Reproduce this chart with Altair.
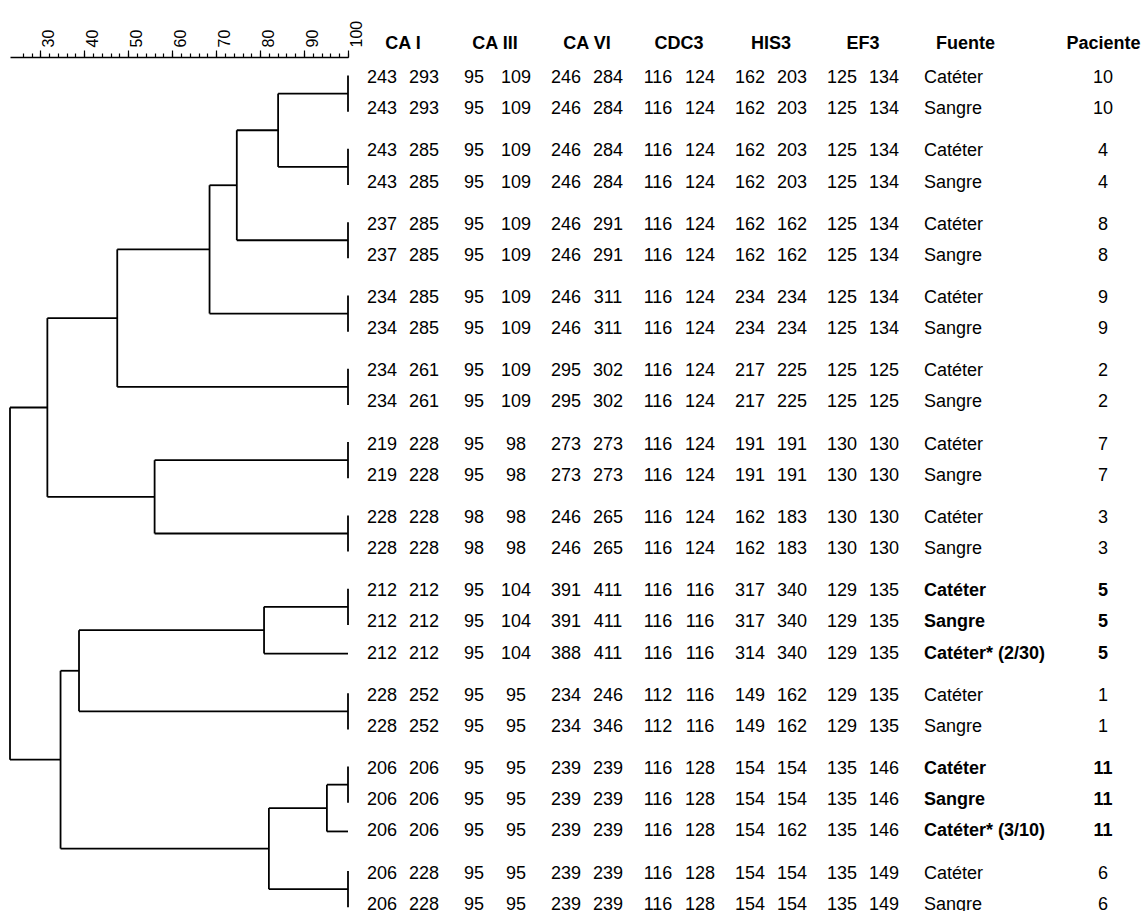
import altair as alt
import pandas as pd

FONT = "Liberation Sans"

# ---------------- data ----------------
patients = [10, 10, 4, 4, 8, 8, 9, 9, 2, 2, 7, 7, 3, 3, 5, 5, 5, 1, 1, 11, 11, 11, 6, 6]
sources = ["Catéter", "Sangre", "Catéter", "Sangre", "Catéter", "Sangre", "Catéter", "Sangre",
           "Catéter", "Sangre", "Catéter", "Sangre", "Catéter", "Sangre",
           "Catéter", "Sangre", "Catéter* (2/30)", "Catéter", "Sangre",
           "Catéter", "Sangre", "Catéter* (3/10)", "Catéter", "Sangre"]
bold_patients = [5, 11]

markers = ["CA I", "CA III", "CA VI", "CDC3", "HIS3", "EF3"]
ca1 = ["243 293", "243 293", "243 285", "243 285", "237 285", "237 285", "234 285", "234 285",
       "234 261", "234 261", "219 228", "219 228", "228 228", "228 228",
       "212 212", "212 212", "212 212", "228 252", "228 252",
       "206 206", "206 206", "206 206", "206 228", "206 228"]
ca3 = ["95 109", "95 109", "95 109", "95 109", "95 109", "95 109", "95 109", "95 109",
       "95 109", "95 109", "95 98", "95 98", "98 98", "98 98",
       "95 104", "95 104", "95 104", "95 95", "95 95",
       "95 95", "95 95", "95 95", "95 95", "95 95"]
ca6 = ["246 284", "246 284", "246 284", "246 284", "246 291", "246 291", "246 311", "246 311",
       "295 302", "295 302", "273 273", "273 273", "246 265", "246 265",
       "391 411", "391 411", "388 411", "234 246", "234 346",
       "239 239", "239 239", "239 239", "239 239", "239 239"]
cdc3 = ["116 124"] * 14 + ["116 116"] * 3 + ["112 116"] * 2 + ["116 128"] * 5
his3 = ["162 203", "162 203", "162 203", "162 203", "162 162", "162 162", "234 234", "234 234",
        "217 225", "217 225", "191 191", "191 191", "162 183", "162 183",
        "317 340", "317 340", "314 340", "149 162", "149 162",
        "154 154", "154 154", "154 162", "154 154", "154 154"]
ef3 = ["125 134"] * 8 + ["125 125"] * 2 + ["130 130"] * 4 + ["129 135"] * 5 + ["135 146"] * 3 + ["135 149"] * 2
marker_values = [ca1, ca3, ca6, cdc3, his3, ef3]

# dendrogram: leaf clusters (row indices) and merges (name, child1, child2, similarity %)
leaf_rows = {"L10": [0, 1], "L4": [2, 3], "L8": [4, 5], "L9": [6, 7], "L2": [8, 9],
             "L7": [10, 11], "L3": [12, 13], "L5p": [14, 15], "L5c": [16],
             "L1": [17, 18], "L11p": [19, 20], "L11c": [21], "L6": [22, 23]}
merges = [("A", "L10", "L4", 84.1), ("B", "A", "L8", 74.7), ("C", "B", "L9", 68.5),
          ("D", "C", "L2", 47.5), ("F", "L7", "L3", 56.0), ("E", "D", "F", 31.6),
          ("G", "L5p", "L5c", 80.9), ("H", "G", "L1", 38.8), ("I", "L11p", "L11c", 95.2),
          ("J", "I", "L6", 82.0), ("K", "H", "J", 34.6), ("R", "E", "K", 23.1)]

# ---------------- row layout (row index + gap between patient groups) ----------------
GAP = 0.35
pos = []
g = 0
for i, p in enumerate(patients):
    if i > 0 and p != patients[i - 1]:
        g += 1
    pos.append(i + GAP * g)

# table (long format)
trows = []
for m, vals in zip(markers, marker_values):
    for i, v in enumerate(vals):
        a, b = v.split()
        trows.append(dict(marker=m, allele=0, value=a, pos=pos[i]))
        trows.append(dict(marker=m, allele=1, value=b, pos=pos[i]))
tdf = pd.DataFrame(trows)

frows = []
for i in range(len(patients)):
    bold = 1 if patients[i] in bold_patients else 0
    frows.append(dict(col="Fuente", text=sources[i], bold=bold, pos=pos[i]))
    frows.append(dict(col="Paciente", text=str(patients[i]), bold=bold, pos=pos[i]))
fdf = pd.DataFrame(frows)

# dendrogram segments
node_xy = {}
hsegs, vsegs = [], []
for name, rows in leaf_rows.items():
    ys = [pos[r] for r in rows]
    node_xy[name] = (100.0, sum(ys) / len(ys))
    if len(rows) > 1:
        vsegs.append(dict(x=100.0, y1=min(ys) - 0.08, y2=max(ys) + 0.08))
for name, a, b, h in merges:
    xa, ya = node_xy[a]
    xb, yb = node_xy[b]
    hsegs.append(dict(x1=h, x2=xa, y=ya))
    hsegs.append(dict(x1=h, x2=xb, y=yb))
    vsegs.append(dict(x=h, y1=ya, y2=yb))
    node_xy[name] = (h, (ya + yb) / 2)
hdf = pd.DataFrame(hsegs)
vdf = pd.DataFrame(vsegs)

# ---------------- scales ----------------
yscale = alt.Scale(domain=[-0.673, 26.7], reverse=True, nice=False, zero=False)
dscale = alt.Scale(domain=[23.1, 100], range=[10, 348], nice=False, zero=False)

major_axis = alt.Axis(orient="top", values=list(range(30, 101, 10)), tickSize=7, tickWidth=1.2,
                      tickColor="black", labelAngle=270, labelAlign="left", labelBaseline="top",
                      labelPadding=3, labelFontSize=16, labelFont=FONT, labelColor="black",
                      labelFlush=False, labelOverlap=False, domainColor="black", domainWidth=1.6,
                      grid=False, title=None)
minor_axis = alt.Axis(orient="top", values=list(range(26, 101, 2)), tickSize=4, tickWidth=1.2,
                      tickColor="black", labels=False, domain=False, grid=False, title=None)

header_axis = dict(orient="top", ticks=False, domain=False, labelAngle=0, labelFontWeight="bold",
                   labelFontSize=18, labelFont=FONT, labelColor="black", labelPadding=5,
                   grid=False, title=None)

hlines = alt.Chart(hdf).mark_rule(color="black", strokeWidth=1.8).encode(
    x=alt.X("x1:Q", scale=dscale, axis=major_axis),
    x2="x2:Q",
    y=alt.Y("y:Q", scale=yscale, axis=None),
)
vlines = alt.Chart(vdf).mark_rule(color="black", strokeWidth=1.8).encode(
    x=alt.X("x:Q", scale=dscale, axis=minor_axis),
    y=alt.Y("y1:Q", scale=yscale, axis=None),
    y2="y2:Q",
)

nums = alt.Chart(tdf).mark_text(font=FONT, fontSize=18, color="black", baseline="middle").encode(
    x=alt.X("marker:N", sort=markers,
            scale=alt.Scale(domain=markers, range=[357, 909], paddingInner=0, paddingOuter=0),
            axis=alt.Axis(**header_axis)),
    xOffset=alt.XOffset("allele:O", scale=alt.Scale(type="point", padding=0.595)),
    y=alt.Y("pos:Q", scale=yscale, axis=None),
    text="value:N",
)

fp_domain = ["Fuente", "Paciente"]


def fp_scale():
    return alt.Scale(domain=fp_domain, range=[896, 1172], paddingInner=0, paddingOuter=0)


def fp_layer(col, bold, with_axis):
    mk = dict(font=FONT, fontSize=18, color="black", baseline="middle",
              fontWeight="bold" if bold else "normal")
    if col == "Fuente":
        mk.update(align="left", dx=-41)
    else:
        mk.update(align="center")
    return alt.Chart(fdf).transform_filter(
        f"datum.col == '{col}' && datum.bold == {bold}"
    ).mark_text(**mk).encode(
        x=alt.X("col:N", sort=fp_domain, scale=fp_scale(),
                axis=alt.Axis(**header_axis) if with_axis else None),
        y=alt.Y("pos:Q", scale=yscale, axis=None),
        text="text:N",
    )


chart = alt.layer(
    hlines, vlines, nums,
    fp_layer("Fuente", 0, True), fp_layer("Fuente", 1, False),
    fp_layer("Paciente", 0, False), fp_layer("Paciente", 1, False),
).resolve_scale(x="independent").resolve_axis(x="independent").properties(
    width=1142, height=854,
    padding={"left": 0, "top": 57, "right": 0, "bottom": 0},
    autosize=alt.AutoSizeParams(type="none"),
    background="white",
).configure_view(stroke=None)

chart.save("out.html", embed_options={"renderer": "svg", "actions": False})
